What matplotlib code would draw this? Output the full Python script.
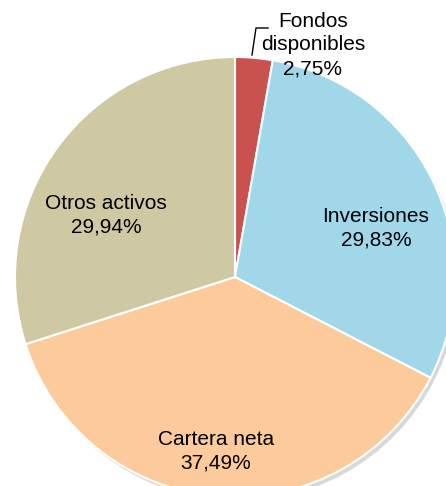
import matplotlib
matplotlib.use("Agg")
import matplotlib.pyplot as plt

labels = ["Fondos\ndisponibles", "Inversiones", "Cartera neta", "Otros activos"]
values = [2.75, 29.83, 37.49, 29.94]
colors = ["#C9524F", "#A0D8EA", "#FDCB9B", "#CFC9A3"]
label_pos = [(313, 45), (376, 228), (216, 451), (106, 215)]

W, H = 446, 486
fig = plt.figure(figsize=(W / 100, H / 100), dpi=100)
ax = fig.add_axes([0, 0, 1, 1])

cx, cy, r = 235, 277, 220

# soft shadow
ax.pie(values, startangle=90, counterclock=False, radius=r, center=(cx + 3, -(cy + 4)),
       colors=["#d8d8d8"] * 4, wedgeprops=dict(linewidth=0), frame=False)
ax.pie(values, startangle=90, counterclock=False, radius=r, center=(cx, -cy),
       colors=colors, wedgeprops=dict(edgecolor="white", linewidth=1.5), frame=False)
ax.set_ylim(-H, 0)
ax.set_xlim(0, W)
ax.set_aspect("equal")
ax.axis("off")

for lab, v, (x, y) in zip(labels, values, label_pos):
    txt = f"{lab}\n{v:.2f}%".replace(".", ",")
    ax.text(x, -y, txt, ha="center", va="center", fontsize=15,
            family=["Liberation Sans", "DejaVu Sans"], color="black", linespacing=1.32)

# leader line for Fondos disponibles
ax.plot([252, 256, 268], [-55, -28, -28], color="black", linewidth=1)

fig.savefig("out.png", dpi=100)
